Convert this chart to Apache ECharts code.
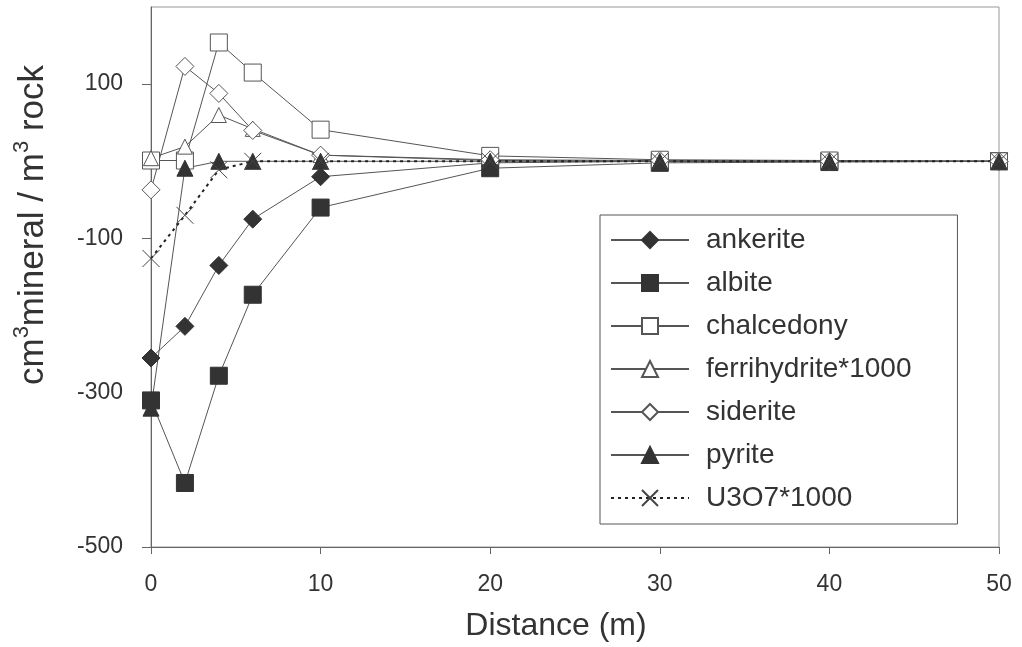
<!DOCTYPE html>
<html>
<head>
<meta charset="utf-8">
<script src="https://cdn.jsdelivr.net/npm/echarts@6/dist/echarts.min.js"></script>
<style>
html,body{margin:0;padding:0;background:#fff;}
#chart{width:1022px;height:647px;}
</style>
</head>
<body>
<div id="chart"></div>
<script>
var distance = [0, 2, 4, 6, 10, 20, 30, 40, 50];
var ankerite = [-255, -214, -135, -75, -20, -2, 0, 0, 0];
var albite = [-310, -417, -278, -173, -60, -9, -2, -1, 0];
var chalcedony = [1, 1, 154, 115, 41, 7, 2, 1, 0];
var ferrihydrite = [4, 19, 60, 42, 8, 1, 0, 0, 0];
var siderite = [-37, 123, 88, 40, 8, 2, 1, 0, 0];
var pyrite = [-320, -9, 0, 0, 0, 0, 0, 0, 0];
var u3o7 = [-126, -70, -11, 0, 0, 0, 0, 0, 0];
var yTicks = [-500, -300, -100, 100];
var xTicks = [0, 10, 20, 30, 40, 50];

function pairs(vals) {
  return distance.map(function (d, i) { return [d, vals[i]]; });
}

var FONT = "'Liberation Sans', Arial, sans-serif";
var LINE = '#555';
var DARK = '#333';
var crossPath = 'path://M0,0L10,10M0,10L10,0';

function mk(name, vals, symbol, size, filled, extra) {
  var s = {
    name: name,
    type: 'line',
    data: pairs(vals),
    symbol: symbol,
    symbolSize: size,
    showAllSymbol: true,
    lineStyle: { color: LINE, width: 1 },
    itemStyle: filled ? { color: DARK, borderColor: DARK, borderWidth: 1 }
                      : { color: '#fff', borderColor: LINE, borderWidth: 1 },
    emphasis: { disabled: true },
    z: 2
  };
  if (extra) { for (var k in extra) s[k] = extra[k]; }
  return s;
}

var chart = echarts.init(document.getElementById('chart'), null, { renderer: 'canvas' });
chart.setOption({
  animation: false,
  backgroundColor: '#fff',
  textStyle: { fontFamily: FONT },
  grid: {
    left: 151, right: 23, top: 7, bottom: 100,
    show: true, borderColor: '#999', borderWidth: 1, backgroundColor: 'transparent'
  },
  xAxis: {
    type: 'value', min: 0, max: 50, interval: 10,
    name: 'Distance (m)', nameLocation: 'middle', nameGap: 63,
    nameTextStyle: { fontSize: 32, color: DARK, fontFamily: FONT, padding: [0, 38, 0, 0] },
    axisLine: { onZero: false, lineStyle: { color: '#666', width: 1 } },
    axisTick: { show: true, inside: false, length: 7, lineStyle: { color: '#666' } },
    axisLabel: { fontSize: 23, color: DARK, margin: 26, fontFamily: FONT,
      customValues: xTicks },
    splitLine: { show: false }
  },
  yAxis: {
    type: 'value', min: -500, max: 200, interval: 200,
    name: '{a|cm}{s|3}{a|mineral / m}{s|3}{a| rock}',
    nameLocation: 'middle', nameGap: 100,
    nameTextStyle: {
      color: DARK, fontFamily: FONT, padding: [0, 0, 0, 104],
      rich: {
        a: { fontSize: 35, lineHeight: 40, color: DARK, fontFamily: FONT, verticalAlign: 'bottom' },
        s: { fontSize: 22, lineHeight: 40, color: DARK, fontFamily: FONT, verticalAlign: 'top', padding: [0, 0, 18, 0] }
      }
    },
    axisLine: { onZero: false, lineStyle: { color: '#666', width: 1 } },
    axisTick: { show: true, inside: false, length: 9, lineStyle: { color: '#666' },
      customValues: yTicks },
    axisLabel: { fontSize: 23, color: DARK, margin: 28, fontFamily: FONT,
      customValues: yTicks },
    splitLine: { show: false }
  },
  legend: {
    orient: 'vertical',
    left: 600, top: 215,
    padding: [10, 46, 11, 10],
    itemWidth: 78, itemHeight: 20, itemGap: 13,
    borderColor: '#555', borderWidth: 1, backgroundColor: '#fff',
    textStyle: { fontSize: 28, color: DARK, fontFamily: FONT, lineHeight: 30, padding: [0, 0, 0, 12] },
    selectedMode: false,
    data: ['ankerite', 'albite', 'chalcedony', 'ferrihydrite*1000', 'siderite', 'pyrite', 'U3O7*1000']
  },
  series: [
    mk('ankerite', ankerite, 'diamond', 18, true),
    mk('albite', albite, 'rect', 17, true),
    mk('chalcedony', chalcedony, 'rect', 17, false),
    mk('ferrihydrite*1000', ferrihydrite, 'triangle', 15, false),
    mk('siderite', siderite, 'diamond', 18, false),
    mk('pyrite', pyrite, 'triangle', 16, true),
    mk('U3O7*1000', u3o7, crossPath, 17, false, {
      lineStyle: { color: '#222', width: 2, type: [3, 4] },
      itemStyle: { color: 'none', borderColor: '#444', borderWidth: 1 }
    })
  ]
});
</script>
</body>
</html>
